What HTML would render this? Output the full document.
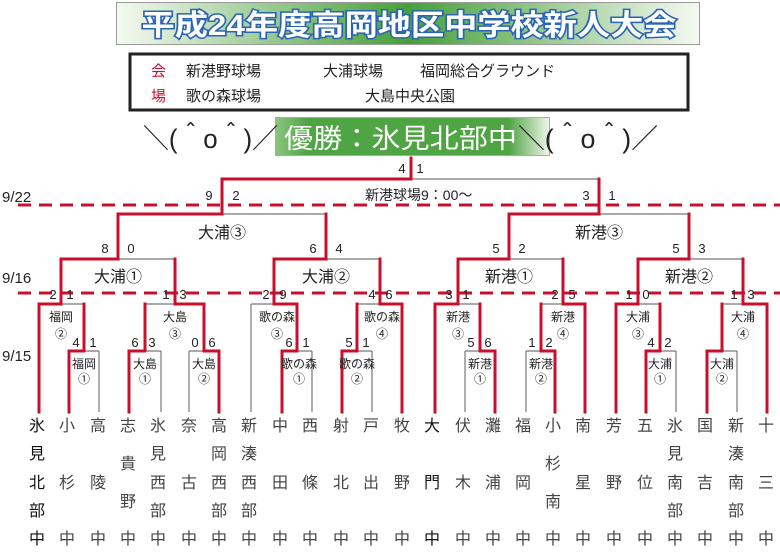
<!DOCTYPE html>
<html><head><meta charset="utf-8"><style>
html,body{margin:0;padding:0;background:#fff;}
svg{display:block;font-family:"Liberation Sans","Noto Sans CJK JP",sans-serif;}
</style></head><body>
<svg width="780" height="559" viewBox="0 0 780 559" xmlns="http://www.w3.org/2000/svg">
<defs>
<linearGradient id="tg" x1="0" x2="1" y1="0" y2="0">
<stop offset="0" stop-color="#f6f9f2"/><stop offset="0.5" stop-color="#46a03a"/><stop offset="1" stop-color="#f6f9f2"/>
</linearGradient>
<linearGradient id="cg" x1="0" x2="1" y1="0" y2="0">
<stop offset="0" stop-color="#8cc47e"/><stop offset="0.12" stop-color="#4fa443"/><stop offset="0.85" stop-color="#4fa443"/><stop offset="1" stop-color="#f0f6ec"/>
</linearGradient>
</defs>
<!-- title -->
<rect x="116.5" y="2.5" width="583" height="42" fill="url(#tg)" stroke="#999" stroke-width="1"/>
<text x="409" y="35" text-anchor="middle" font-size="29" font-weight="bold" fill="#fff" stroke="#2a64b4" stroke-width="3" paint-order="stroke" textLength="535" lengthAdjust="spacingAndGlyphs">平成24年度高岡地区中学校新人大会</text>
<!-- venue box -->
<rect x="130" y="54" width="558" height="56" fill="#fff" stroke="#222" stroke-width="3"/>
<g font-size="15" fill="#222">
<text x="151" y="76" fill="#c8102e">会</text>
<text x="151" y="101" fill="#c8102e">場</text>
<text x="186" y="76">新港野球場</text>
<text x="323" y="76">大浦球場</text>
<text x="420" y="76">福岡総合グラウンド</text>
<text x="186" y="101">歌の森球場</text>
<text x="365" y="101">大島中央公園</text>
</g>
<!-- champion -->
<rect x="275.5" y="117.5" width="274" height="38" fill="url(#cg)" stroke="#aaa"/>
<text x="284" y="148" font-size="27" fill="#fff" textLength="233" lengthAdjust="spacingAndGlyphs">優勝：氷見北部中</text>
<text x="143" y="148" font-size="27" fill="#222" textLength="135" lengthAdjust="spacingAndGlyphs">＼(＾o＾)／</text>
<text x="518" y="148" font-size="27" fill="#222" textLength="140" lengthAdjust="spacingAndGlyphs">＼(＾o＾)／</text>
<!-- dates -->
<g font-size="15" fill="#222">
<text x="2" y="202">9/22</text>
<text x="2" y="283">9/16</text>
<text x="2" y="361">9/15</text>
</g>
<!-- dashed -->
<g stroke="#c8102e" stroke-width="3" stroke-dasharray="13,8">
<line x1="18" y1="205" x2="780" y2="205"/>
<line x1="18" y1="293" x2="780" y2="293"/>
</g>
<!-- gray lines -->
<g stroke="#777" stroke-width="1.2" fill="none">
<path d="M99 412V351M161 412V351M189 412V351M251 412V304M312 412V351M372 412V351M465 412V351M526 412V351M676 412V351M737 412V351"/>
<path d="M84 351H99M145 351H161M189 351H204M297 351H312M357 351H372M465 351H480M526 351H541M660 351H676M722 351H737"/>
<path d="M61 304H84M145 304H175M251 304H274M357 304H380M458 304H480M541 304H563M638 304H660M722 304H743"/>
<path d="M118 259H175M326 259H380M509 259H563M689 259H743"/>
<path d="M222 214H326M599 214H689M411 179H599"/>
</g>
<!-- red lines -->
<g stroke="#c8102e" stroke-width="3" fill="none" stroke-linecap="square">
<path d="M39 412V304H61V259H118V214H222V179H411V158"/>
<path d="M69 412V351H84V304"/>
<path d="M129 412V351H145V304"/>
<path d="M219 412V351H204V304H175V259"/>
<path d="M282 412V351H297V304H274V259H326V214"/>
<path d="M342 412V351H357V304"/>
<path d="M402 412V304H380V259"/>
<path d="M435 412V304H458V259H509V214H599V179"/>
<path d="M495 412V351H480V304"/>
<path d="M555 412V351H541V304"/>
<path d="M585 412V304H563V259"/>
<path d="M616 412V304H638V259H689V214"/>
<path d="M646 412V351H660V304"/>
<path d="M707 412V351H722V304"/>
<path d="M767 412V304H743V259"/>
</g>
<!-- scores -->
<g font-size="13" fill="#222" text-anchor="middle">
<text x="402" y="173">4</text><text x="420" y="173">1</text>
<text x="209" y="200">9</text><text x="236" y="200">2</text>
<text x="586" y="200">3</text><text x="612" y="200">1</text>
<text x="105" y="253">8</text><text x="131" y="253">0</text>
<text x="313" y="253">6</text><text x="339" y="253">4</text>
<text x="496" y="253">5</text><text x="522" y="253">2</text>
<text x="676" y="253">5</text><text x="702" y="253">3</text>
<text x="53" y="299">2</text><text x="70" y="299">1</text>
<text x="166" y="299">1</text><text x="183" y="299">3</text>
<text x="266" y="299">2</text><text x="283" y="299">9</text>
<text x="372" y="299">4</text><text x="389" y="299">6</text>
<text x="449" y="299">3</text><text x="466" y="299">1</text>
<text x="555" y="299">2</text><text x="572" y="299">5</text>
<text x="629" y="299">1</text><text x="646" y="299">0</text>
<text x="734" y="299">1</text><text x="751" y="299">3</text>
<text x="76" y="347">4</text><text x="93" y="347">1</text>
<text x="135" y="347">6</text><text x="152" y="347">3</text>
<text x="195" y="347">0</text><text x="212" y="347">6</text>
<text x="289" y="347">6</text><text x="306" y="347">1</text>
<text x="349" y="347">5</text><text x="366" y="347">1</text>
<text x="471" y="347">5</text><text x="488" y="347">6</text>
<text x="532" y="347">1</text><text x="549" y="347">2</text>
<text x="651" y="347">4</text><text x="668" y="347">2</text>
</g>
<!-- labels -->
<g font-size="16" fill="#222" text-anchor="middle">
<text x="222" y="238">大浦③</text>
<text x="599" y="238">新港③</text>
<text x="118" y="282">大浦①</text>
<text x="326" y="282">大浦②</text>
<text x="509" y="282">新港①</text>
<text x="689" y="282">新港②</text>
</g>
<text x="365" y="200" font-size="14" fill="#222">新港球場9：00〜</text>
<g font-size="12" fill="#222" text-anchor="middle">
<text x="61" y="321">福岡</text><text x="61" y="338">②</text>
<text x="175" y="321">大島</text><text x="175" y="338">③</text>
<text x="277" y="321">歌の森</text><text x="277" y="338">③</text>
<text x="382" y="321">歌の森</text><text x="382" y="338">④</text>
<text x="458" y="321">新港</text><text x="458" y="338">③</text>
<text x="563" y="321">新港</text><text x="563" y="338">④</text>
<text x="638" y="321">大浦</text><text x="638" y="338">③</text>
<text x="743" y="321">大浦</text><text x="743" y="338">④</text>
<text x="84" y="368">福岡</text><text x="84" y="383">①</text>
<text x="145" y="368">大島</text><text x="145" y="383">①</text>
<text x="204" y="368">大島</text><text x="204" y="383">②</text>
<text x="299" y="368">歌の森</text><text x="299" y="383">①</text>
<text x="357" y="368">歌の森</text><text x="357" y="383">②</text>
<text x="480" y="368">新港</text><text x="480" y="383">①</text>
<text x="541" y="368">新港</text><text x="541" y="383">②</text>
<text x="660" y="368">大浦</text><text x="660" y="383">①</text>
<text x="722" y="368">大浦</text><text x="722" y="383">②</text>
</g>
<!-- team names -->
<g font-size="16" fill="#444" text-anchor="middle">
<g fill="#111"><text x="37" y="431">氷</text><text x="37" y="459">見</text><text x="37" y="488">北</text><text x="37" y="516">部</text><text x="37" y="544">中</text></g>
<text x="67" y="431">小</text><text x="67" y="488">杉</text><text x="67" y="544">中</text>
<text x="98" y="431">高</text><text x="98" y="488">陵</text><text x="98" y="544">中</text>
<text x="128" y="431">志</text><text x="128" y="469">貴</text><text x="128" y="507">野</text><text x="128" y="544">中</text>
<text x="158" y="431">氷</text><text x="158" y="459">見</text><text x="158" y="488">西</text><text x="158" y="516">部</text><text x="158" y="544">中</text>
<text x="189" y="431">奈</text><text x="189" y="488">古</text><text x="189" y="544">中</text>
<text x="219" y="431">高</text><text x="219" y="459">岡</text><text x="219" y="488">西</text><text x="219" y="516">部</text><text x="219" y="544">中</text>
<text x="249" y="431">新</text><text x="249" y="459">湊</text><text x="249" y="488">西</text><text x="249" y="516">部</text><text x="249" y="544">中</text>
<text x="280" y="431">中</text><text x="280" y="488">田</text><text x="280" y="544">中</text>
<text x="310" y="431">西</text><text x="310" y="488">條</text><text x="310" y="544">中</text>
<text x="341" y="431">射</text><text x="341" y="488">北</text><text x="341" y="544">中</text>
<text x="371" y="431">戸</text><text x="371" y="488">出</text><text x="371" y="544">中</text>
<text x="402" y="431">牧</text><text x="402" y="488">野</text><text x="402" y="544">中</text>
<g fill="#111"><text x="432" y="431">大</text><text x="432" y="488">門</text><text x="432" y="544">中</text></g>
<text x="463" y="431">伏</text><text x="463" y="488">木</text><text x="463" y="544">中</text>
<text x="493" y="431">灘</text><text x="493" y="488">浦</text><text x="493" y="544">中</text>
<text x="523" y="431">福</text><text x="523" y="488">岡</text><text x="523" y="544">中</text>
<text x="553" y="431">小</text><text x="553" y="469">杉</text><text x="553" y="507">南</text><text x="553" y="544">中</text>
<text x="583" y="431">南</text><text x="583" y="488">星</text><text x="583" y="544">中</text>
<text x="614" y="431">芳</text><text x="614" y="488">野</text><text x="614" y="544">中</text>
<text x="645" y="431">五</text><text x="645" y="488">位</text><text x="645" y="544">中</text>
<text x="675" y="431">氷</text><text x="675" y="459">見</text><text x="675" y="488">南</text><text x="675" y="516">部</text><text x="675" y="544">中</text>
<text x="705" y="431">国</text><text x="705" y="488">吉</text><text x="705" y="544">中</text>
<text x="736" y="431">新</text><text x="736" y="459">湊</text><text x="736" y="488">南</text><text x="736" y="516">部</text><text x="736" y="544">中</text>
<text x="766" y="431">十</text><text x="766" y="488">三</text><text x="766" y="544">中</text>
</g>
</svg>
</body></html>
